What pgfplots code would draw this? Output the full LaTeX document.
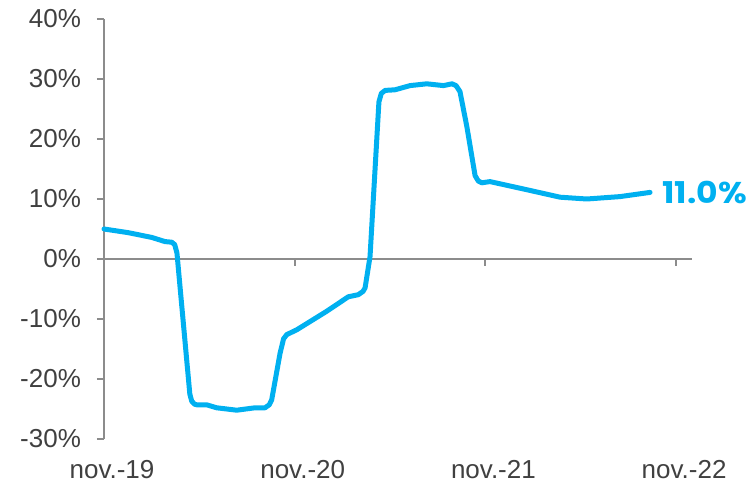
\documentclass[border=0pt]{standalone}
\usepackage{fontspec}
\setmainfont{Liberation Sans}
\newfontfamily\labelfont{Poppins}[FakeStretch=1.1]
\usepackage{pgfplots}
\pgfplotsset{compat=1.18}

\definecolor{linecyan}{HTML}{00B0F0}
\definecolor{axisgray}{HTML}{8C8C8C}
\definecolor{textgray}{HTML}{404040}

\begin{document}
\begin{tikzpicture}[x=0.5pt,y=0.5pt]
\begin{axis}[
    scale only axis,
    width=294pt, height=210pt,
    xmin=0, xmax=37,
    ymin=-30, ymax=40,
    axis y line*=left,
    axis x line*=middle,
    hide obscured x ticks=false,
    axis line style={axisgray, line width=1pt, -},
    tick style={axisgray, line width=1pt},
    tick align=outside,
    major tick length=3.5pt,
    xtick={0,12,24,36},
    xticklabels={nov.-19,nov.-20,nov.-21,nov.-22},
    ytick={-30,-20,...,40},
    yticklabel={\pgfmathprintnumber[assume math mode=true]{\tick}\%},
    tick label style={font=\fontsize{13pt}{15pt}\selectfont, text=textgray},
    xticklabel style={yshift=-93.5pt, xshift=4pt},
    yticklabel style={xshift=-4.5pt},
    clip=false,
]
\addplot[color=linecyan, line width=2.5pt, line join=round, line cap=round] coordinates {
(0,5.0)(1.5,4.4)(3.0,3.6)(3.6,3.1)(3.84,2.9)(4.26,2.8)(4.45,2.4)(4.59,1.0)
(5.40,-22.5)(5.52,-23.7)(5.70,-24.2)(5.83,-24.3)(6.46,-24.3)(7.09,-24.8)(8.35,-25.2)(9.50,-24.8)
(10.13,-24.8)(10.40,-24.3)(10.55,-23.5)(11.08,-15.7)(11.30,-13.3)(11.50,-12.6)(12.13,-11.8)
(14.02,-8.7)(15.37,-6.3)(16.00,-5.95)(16.30,-5.4)(16.43,-4.8)(16.74,0.4)
(17.30,26.2)(17.45,27.6)(17.69,28.1)(18.31,28.2)(19.26,28.9)(20.31,29.2)(21.36,28.9)
(21.90,29.2)(22.15,28.9)(22.40,27.9)(22.83,22.1)(23.35,13.9)(23.55,13.0)(23.77,12.7)(24.29,12.9)
(26.60,11.55)(28.70,10.3)(30.38,10.0)(32.47,10.4)(34.36,11.1)
};
\node[anchor=west, text=linecyan, font=\labelfont\bfseries\fontsize{15pt}{16pt}\selectfont, inner sep=0pt, xshift=6pt] at (axis cs:34.36,11.1) {11.0\%};
\end{axis}
\pgfresetboundingbox
\useasboundingbox (-104,-46) rectangle (644,439);
\end{tikzpicture}
\end{document}
